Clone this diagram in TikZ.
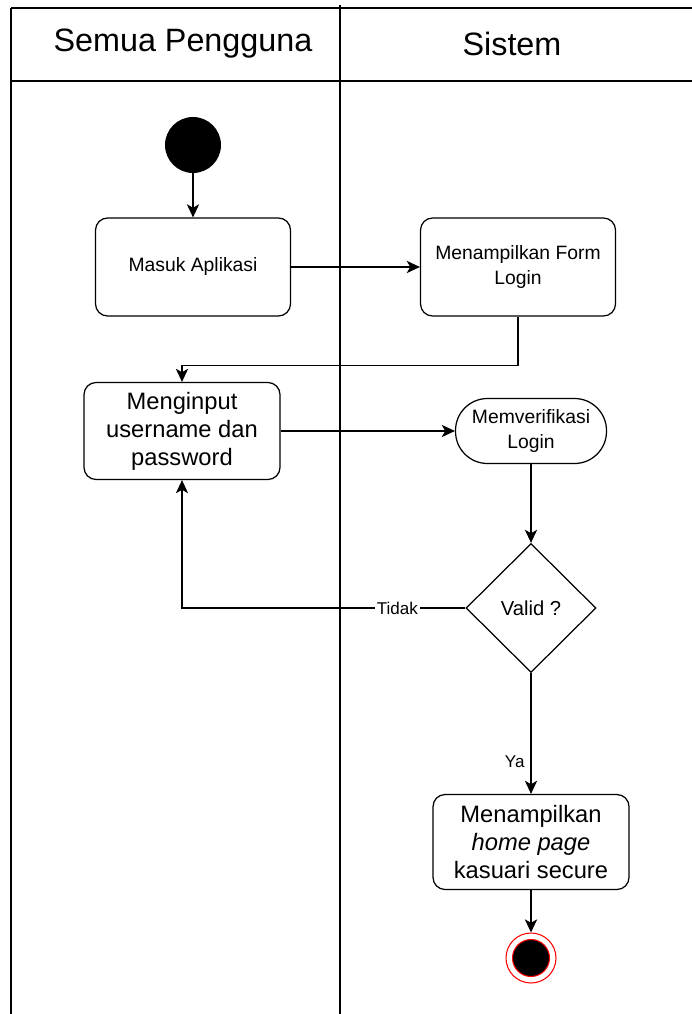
\documentclass[tikz,border=0pt]{standalone}
\usepackage{fontspec}
\setmainfont{Liberation Sans}
\usetikzlibrary{arrows.meta,shapes.geometric}
\tikzset{
	lane/.style={line width=0.8pt},
	lanehead/.style={line width=1.4pt},
	act/.style={draw, line width=0.7pt, rounded corners=0.24cm, align=center, inner sep=2pt},
	flow/.style={line width=0.7pt, -{Stealth[length=7.5pt,width=7pt,inset=2pt]}},
	lbl/.style={fill=white, inner sep=1pt, font=\fontsize{9.7}{11}\selectfont}
}
\def\smalltxt{\fontsize{11}{14}\selectfont}
\def\bigtxt{\fontsize{13.5}{16}\selectfont}

\begin{document}
\begin{tikzpicture}[x=0.02cm, y=-0.02cm]
			%%%%% START %%%%%
			\useasboundingbox (0, 0) rectangle (692, 1014);
			
			% swimlanes
			\draw[lanehead] (11, 8) -- (692, 8);
			\draw[lanehead] (11, 81) -- (692, 81);
			\draw[lane] (11, 8) -- (11, 1014);
			\draw[lane] (340, 5) -- (340, 1014);
			\node (hUser) at (183, 44) {\fontsize{18.4}{22}\selectfont Semua Pengguna};
			\node (hSys) at (512, 44) {\fontsize{18.4}{22}\selectfont Sistem};
			
			% activities
			\node[circle, fill=black, minimum size=1.12cm, inner sep=0] (start) at (193, 145) {};
			\node[act, minimum width=3.9cm, minimum height=1.96cm, font=\smalltxt] (masuk) at (193, 267) {Masuk Aplikasi};
			\node[act, minimum width=3.9cm, minimum height=1.96cm, font=\smalltxt] (form) at (518, 267) {Menampilkan Form\\Login};
			\node[act, minimum width=3.92cm, minimum height=1.94cm, font=\bigtxt] (input) at (182, 431) {Menginput\\username dan\\password};
			\node[act, rounded corners=0.64cm, minimum width=3.02cm, minimum height=1.3cm, font=\smalltxt] (verif) at (531, 431) {Memverifikasi\\Login};
			\node[draw, diamond, line width=0.7pt, minimum width=2.6cm, minimum height=2.58cm, inner sep=0, font=\fontsize{11.5}{14}\selectfont] (valid) at (531, 608) {Valid ?};
			\node[act, minimum width=3.92cm, minimum height=1.9cm, font=\bigtxt] (home) at (531, 842) {Menampilkan\\\textit{home page}\\kasuari secure};
			\node[circle, draw=red, line width=0.6pt, minimum size=1cm, inner sep=0] (stop) at (531, 958) {};
			\node[circle, draw=red, fill=black, line width=0.6pt, minimum size=0.74cm, inner sep=0] (stopIn) at (531, 958) {};
			
			% flows
			\draw[flow] (start) -- (masuk);
			\draw[flow] (masuk) -- (form);
			\draw[flow] (form.south) -- ++(0, 49) -| (input.north);
			\draw[flow] (input) -- (verif);
			\draw[flow] (verif) -- (valid);
			\draw[flow] (valid.west) -| node[lbl, pos=0.12] {Tidak} (input.south);
			\draw[flow] (valid) -- node[left, pos=0.73, font=\fontsize{9.7}{11}\selectfont] {Ya} (home);
			\draw[flow] (home) -- (stop);
			
			%%%%% END %%%%%
\end{tikzpicture}
\end{document}
